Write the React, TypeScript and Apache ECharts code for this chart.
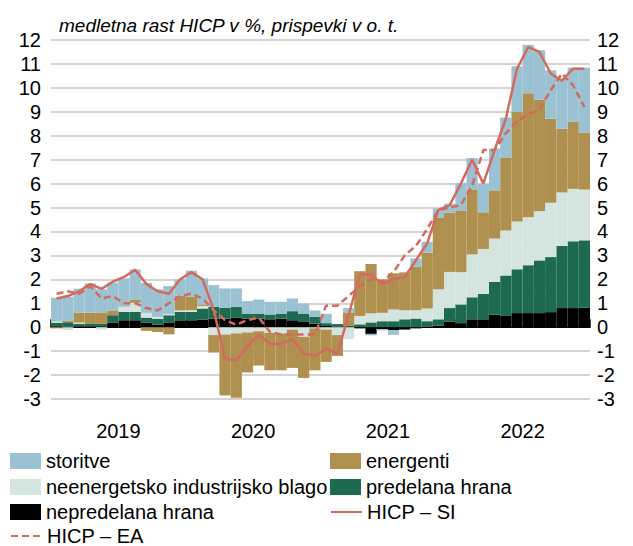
import React, { useEffect, useRef } from "react";
import * as echarts from "echarts";

const years = ["2019", "2020", "2021", "2022"];
const monthNums = ["01", "02", "03", "04", "05", "06", "07", "08", "09", "10", "11", "12"];
const months = years.flatMap((y) => monthNums.map((m) => `${y}-${m}`));

// contributions (p.p.)
const nepredelana = [
  0.04, 0.03, 0.04, 0.04, 0.04, 0.18, 0.29, 0.29, 0.18, 0.10, 0.20, 0.26,
  0.29, 0.32, 0.36, 0.36, 0.39, 0.36, 0.36, 0.33, 0.36, 0.29, 0.22, 0.15,
  0.05, 0.03, 0.0, -0.05, -0.28, -0.08, -0.12, -0.1, -0.05, 0.03, 0.06, 0.24,
  0.17, 0.33, 0.33, 0.52, 0.47, 0.59, 0.59, 0.59, 0.63, 0.80, 0.80, 0.81,
];
const predelana = [
  0.15, 0.18, 0.10, 0.12, 0.10, 0.32, 0.35, 0.35, 0.22, 0.25, 0.30, 0.38,
  0.35, 0.46, 0.49, 0.45, 0.46, 0.21, 0.21, 0.20, 0.21, 0.38, 0.35, 0.28,
  0.12, 0.10, 0.05, 0.12, 0.20, 0.25, 0.25, 0.33, 0.36, 0.22, 0.27, 0.56,
  0.78, 0.92, 1.06, 1.37, 1.69, 1.83, 2.0, 2.2, 2.3, 2.6, 2.79, 2.82,
];
const neenergetsko = [
  0.05, -0.12, 0.05, 0.0, -0.10, 0.0, 0.21, 0.38, 0.20, 0.08, 0.05, 0.06,
  0.07, 0.11, -0.33, -0.31, -0.26, -0.22, -0.17, -0.24, -0.26, -0.10, -0.40, -0.05,
  -0.10, -0.33, -0.50, 0.35, 0.38, 0.35, 0.49, 0.38, 0.35, 0.53, 1.26, 1.51,
  1.35, 1.79, 1.88, 1.81, 1.88, 2.0, 2.0, 2.05, 2.27, 2.23, 2.19, 2.12,
];
const energenti = [
  -0.05, 0.06, 0.42, 0.45, 0.48, 0.20, 0.0, 0.14, -0.15, -0.20, -0.30, 0.62,
  0.56, 0.06, -0.73, -2.54, -2.69, -1.67, -1.43, -1.56, -1.54, -1.60, -1.72, -1.75,
  -1.35, -0.87, 0.57, 1.87, 2.06, 1.40, 1.51, 1.58, 1.81, 2.34, 2.98, 2.47,
  2.58, 2.72, 1.53, 2.02, 3.03, 4.57, 5.19, 4.67, 3.51, 2.66, 2.80, 2.37,
];
const storitve = [
  0.99, 1.0, 1.0, 1.22, 0.96, 1.16, 1.19, 1.25, 1.25, 1.15, 1.17, 0.68,
  1.09, 1.09, 0.91, 0.81, 0.77, 0.52, 0.59, 0.53, 0.49, 0.53, 0.42, 0.27,
  0.39, 0.0, 0.18, 0.0, -0.06, -0.05, -0.2, 0.0, 0.35, 0.45, 0.39, 0.38,
  1.14, 1.31, 1.19, 1.74, 1.69, 1.91, 2.02, 2.06, 2.02, 2.10, 2.27, 2.72,
];
// headline inflation, y/y %
const hicpSI = [
  1.2, 1.3, 1.5, 1.8, 1.6, 1.9, 2.1, 2.4, 1.8, 1.5, 1.4, 2.0,
  2.3, 2.0, 0.7, -1.3, -1.4, -0.8, -0.3, -0.7, -0.7, -0.5, -1.1, -1.2,
  -0.9, -1.1, 0.5, 2.2, 2.2, 1.8, 2.0, 2.1, 2.8, 3.5, 4.9, 5.1,
  6.0, 7.0, 6.0, 7.4, 8.7, 10.8, 11.7, 11.5, 10.6, 10.3, 10.8, 10.8,
];
const hicpEA = [
  1.4, 1.5, 1.4, 1.7, 1.2, 1.3, 1.0, 1.0, 0.8, 0.7, 1.0, 1.3,
  1.4, 1.2, 0.7, 0.3, 0.1, 0.3, 0.4, -0.2, -0.3, -0.3, -0.3, -0.3,
  0.9, 0.9, 1.3, 1.7, 2.0, 1.9, 2.3, 3.0, 3.4, 4.1, 4.9, 5.0,
  5.1, 5.9, 7.4, 7.4, 8.1, 8.6, 8.9, 9.1, 9.9, 10.6, 10.1, 9.2,
];

const legendLayout: [string, boolean, number, number][] = [
  ["storitve", true, 10, 451],
  ["energenti", true, 330, 451],
  ["neenergetsko industrijsko blago", true, 10, 477],
  ["predelana hrana", true, 330, 477],
  ["nepredelana hrana", true, 10, 502],
  ["HICP – SI", false, 330, 502],
  ["HICP – EA", false, 10, 526],
];

const FONT = "'Liberation Sans', Arial, sans-serif";
const RED = "#d4695e";

export default function App() {
  const ref = useRef<HTMLDivElement>(null);
  useEffect(() => {
    document.body.style.margin = "0";
    if (!ref.current) return;
    const chart = echarts.init(ref.current, undefined, { renderer: "svg" });
    const bar = (name: string, data: number[], color: string) => ({
      name,
      type: "bar",
      stack: "c",
      data,
      barCategoryGap: "0%",
      itemStyle: { color },
      xAxisIndex: 0,
      yAxisIndex: 0,
    });
    const legendText = { fontFamily: FONT, fontSize: 20, color: "#000" };
    chart.setOption({
      animation: false,
      textStyle: { fontFamily: FONT },
      title: {
        text: "medletna rast HICP v %, prispevki v o. t.",
        left: 54,
        top: 11,
        textStyle: { fontFamily: FONT, fontSize: 19, fontStyle: "italic", fontWeight: "normal", color: "#000" },
      },
      grid: { left: 51, right: 43, top: 40, bottom: 147 },
      legend: legendLayout.map(([name, isBar, left, top]) => ({
        orient: "horizontal",
        left,
        top,
        padding: 0,
        itemWidth: 31,
        itemHeight: 16,
        itemGap: 5,
        selectedMode: false,
        textStyle: legendText,
        data: [
          isBar
            ? { name, icon: "rect" }
            : { name, itemStyle: { opacity: 0, color: "rgba(0,0,0,0)", borderWidth: 0 } },
        ],
      })),
      xAxis: [
        {
          type: "category",
          data: months,
          axisLine: { show: false },
          axisTick: { show: false },
          axisLabel: { show: false },
        },
        {
          type: "category",
          data: years,
          boundaryGap: true,
          axisLine: { show: true, onZero: true, lineStyle: { color: "#000", width: 1 } },
          axisTick: { show: true, interval: 0, length: 8, lineStyle: { color: "#000", width: 1.5 } },
          axisLabel: { show: false },
        },
        {
          type: "category",
          data: years,
          position: "bottom",
          axisLine: { show: false, onZero: false },
          axisTick: { show: false },
          axisLabel: { show: true, interval: 0, margin: 22, fontSize: 20, color: "#000", fontFamily: FONT },
        },
      ],
      yAxis: [
        {
          type: "value",
          min: -3,
          max: 12,
          interval: 1,
          position: "left",
          axisLine: { show: false },
          axisTick: { show: false },
          axisLabel: { fontSize: 20, color: "#000", margin: 10, fontFamily: FONT },
          splitLine: { lineStyle: { color: "#c6c6c6", width: 1.5 } },
        },
        {
          type: "value",
          min: -3,
          max: 12,
          interval: 1,
          position: "right",
          axisLine: { show: false },
          axisTick: { show: false },
          axisLabel: { fontSize: 20, color: "#000", margin: 7, fontFamily: FONT },
          splitLine: { show: false },
        },
      ],
      series: [
        bar("nepredelana hrana", nepredelana, "#000000"),
        bar("predelana hrana", predelana, "#1e6a50"),
        bar("neenergetsko industrijsko blago", neenergetsko, "#d4e4de"),
        bar("energenti", energenti, "#b0904f"),
        bar("storitve", storitve, "#9bc2d2"),
        {
          name: "HICP – SI",
          type: "line",
          data: hicpSI,
          symbol: "none",
          xAxisIndex: 0,
          yAxisIndex: 0,
          z: 5,
          itemStyle: { color: RED },
          lineStyle: { color: RED, width: 2.5 },
        },
        {
          name: "HICP – EA",
          type: "line",
          data: hicpEA,
          symbol: "none",
          xAxisIndex: 0,
          yAxisIndex: 0,
          z: 5,
          itemStyle: { color: RED },
          lineStyle: { color: RED, width: 2.5, type: [7, 4] },
        },
      ],
    });
    return () => chart.dispose();
  }, []);
  return <div ref={ref} style={{ width: 633, height: 546 }} />;
}
